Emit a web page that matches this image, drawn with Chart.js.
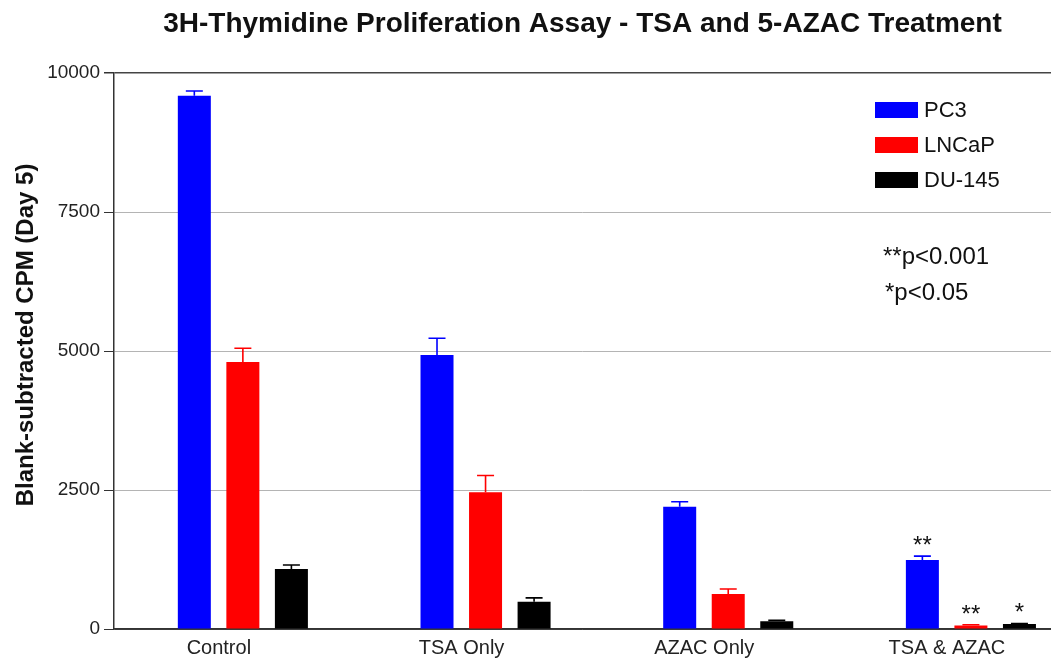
<!DOCTYPE html>
<html>
<head>
<meta charset="utf-8">
<title>3H-Thymidine Proliferation Assay</title>
<script src="https://cdn.jsdelivr.net/npm/chart.js@4/dist/chart.umd.min.js"></script>
<style>
    html, body { margin: 0; padding: 0; background: #fff; overflow: hidden; }
    #wrap { width: 1051px; height: 665px; }
</style>
</head>
<body>
<div id="wrap"><canvas id="prolifChart" width="1051" height="665"></canvas></div>
<script>
// Data
const categories = ["Control", "TSA Only", "AZAC Only", "TSA & AZAC"];
const seriesNames = ["PC3", "LNCaP", "DU-145"];
const pc3Values = [9590, 4930, 2200, 1240];
const pc3Errors = [85, 300, 90, 70];
const lncapValues = [4800, 2460, 630, 65];
const lncapErrors = [250, 300, 90, 12];
const du145Values = [1080, 490, 140, 90];
const du145Errors = [70, 70, 15, 10];
const pc3Stars = ["", "", "", "**"];
const lncapStars = ["", "", "", "**"];
const du145Stars = ["", "", "", "*"];
const yTicks = [0, 2500, 5000, 7500, 10000];
const pNotes = ["**p<0.001", "*p<0.05"];

const FONT = "'Liberation Sans', Arial, Helvetica, sans-serif";
const colors = ["#0000ff", "#ff0000", "#000000"];

const toPoints = (values) => values.map((v, i) => ({ x: i + 1, y: v }));

const datasets = [
    { label: seriesNames[0], data: toPoints(pc3Values), errors: pc3Errors, stars: pc3Stars },
    { label: seriesNames[1], data: toPoints(lncapValues), errors: lncapErrors, stars: lncapStars },
    { label: seriesNames[2], data: toPoints(du145Values), errors: du145Errors, stars: du145Stars },
].map((ds, i) => ({
    ...ds,
    backgroundColor: colors[i],
    borderColor: colors[i],
    borderWidth: 0,
    categoryPercentage: 0.6,
    barPercentage: 0.68,
}));

// Error bars (upper only) + significance stars
const errorBarPlugin = {
    id: "errorBars",
    afterDatasetsDraw(chart) {
        const { ctx, scales } = chart;
        chart.data.datasets.forEach((ds, di) => {
            const meta = chart.getDatasetMeta(di);
            meta.data.forEach((bar, j) => {
                const val = ds.data[j].y;
                const top = scales.y.getPixelForValue(val + ds.errors[j]);
                const base = scales.y.getPixelForValue(val);
                ctx.save();
                ctx.strokeStyle = ds.borderColor;
                ctx.lineWidth = 1.6;
                ctx.beginPath();
                ctx.moveTo(bar.x, base);
                ctx.lineTo(bar.x, top);
                ctx.moveTo(bar.x - 8.5, top);
                ctx.lineTo(bar.x + 8.5, top);
                ctx.stroke();
                if (ds.stars[j]) {
                    ctx.fillStyle = "#111";
                    ctx.font = "24px " + FONT;
                    ctx.textAlign = "center";
                    ctx.textBaseline = "alphabetic";
                    ctx.fillText(ds.stars[j], bar.x, top - 3);
                }
                ctx.restore();
            });
        });
    },
};

// Legend box, p-value notes and rotated y title
const annotationPlugin = {
    id: "annotations",
    afterDraw(chart) {
        const { ctx } = chart;
        ctx.save();
        ctx.font = "22px " + FONT;
        ctx.textBaseline = "middle";
        ctx.textAlign = "left";
        chart.data.datasets.forEach((ds, i) => {
            const y = 102 + i * 35;
            ctx.fillStyle = ds.backgroundColor;
            ctx.fillRect(875, y, 43, 16);
            ctx.fillStyle = "#111";
            ctx.fillText(ds.label, 924, y + 9);
        });
        ctx.font = "24px " + FONT;
        pNotes.forEach((t, i) => {
            ctx.fillText(t, 883 + (i ? 2 : 0), 257 + i * 36);
        });

        ctx.font = "bold 24px " + FONT;
        ctx.translate(26, 335);
        ctx.rotate(-Math.PI / 2);
        ctx.textAlign = "center";
        ctx.fillText("Blank-subtracted CPM (Day 5)", 0, 0);
        ctx.restore();
    },
};

const ctx = document.getElementById("prolifChart");
new Chart(ctx, {
    type: "bar",
    data: { datasets: datasets },
    options: {
        responsive: false,
        devicePixelRatio: 1,
        animation: false,
        layout: { padding: { left: 0, right: 0, top: 0, bottom: 0 } },
        plugins: {
            legend: { display: false },
            tooltip: { enabled: false },
            title: {
                display: true,
                fullSize: false,
                text: "3H-Thymidine Proliferation Assay - TSA and 5-AZAC Treatment",
                color: "#111",
                font: { family: FONT, size: 28, weight: "bold" },
                padding: { top: 7, bottom: 32.4 },
            },
        },
        scales: {
            x: {
                type: "linear",
                offset: false,
                min: 0.469,
                max: 4.33,
                afterBuildTicks: (scale) => {
                    scale.ticks = categories.map((c, i) => ({ value: i + 1 }));
                },
                afterFit: (scale) => {
                    scale.height = 36;
                },
                ticks: {
                    callback: (v) => categories[v - 1],
                    labelOffset: -24,
                    padding: 7,
                    maxRotation: 0,
                    autoSkip: false,
                    color: "#222",
                    font: { family: FONT, size: 20 },
                },
                grid: { display: false, drawTicks: false, offset: false },
                border: { display: true, color: "#333", width: 1.5 },
            },
            y: {
                min: 0,
                max: 10000,
                afterBuildTicks: (scale) => {
                    scale.ticks = yTicks.map((v) => ({ value: v }));
                },
                afterFit: (scale) => {
                    scale.width = 114;
                },
                ticks: {
                    padding: 4,
                    color: "#222",
                    font: { family: FONT, size: 19 },
                    callback: (v) => String(v),
                },
                grid: {
                    color: (c) => (c.tick && (c.tick.value === 10000 || c.tick.value === 0) ? "#444" : "#b4b4b4"),
                    lineWidth: (c) => (c.tick && c.tick.value === 10000 ? 1.5 : 1),
                    tickColor: "#333",
                    tickLength: 10,
                },
                border: { display: true, color: "#333", width: 1.5 },
            },
        },
    },
    plugins: [errorBarPlugin, annotationPlugin],
});
</script>
</body>
</html>
